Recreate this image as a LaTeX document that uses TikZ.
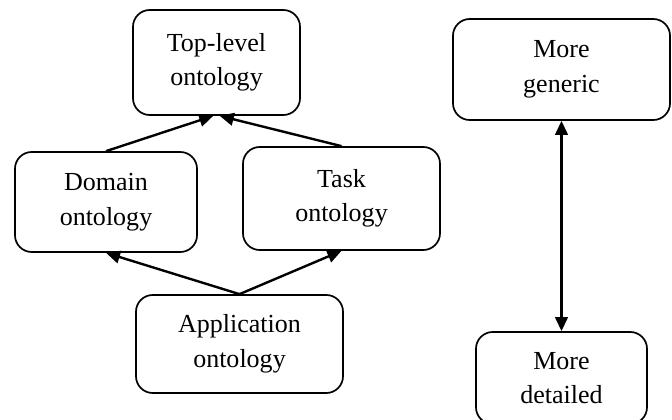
\documentclass[tikz,border=0pt]{standalone}
\usepackage{fontspec}
\setmainfont{Liberation Serif}
\usetikzlibrary{arrows.meta}

\begin{document}
\begin{tikzpicture}[x=0.025cm, y=-0.025cm,
    onto/.style={draw, line width=1.2pt, rounded corners=0.42cm, align=center,
        font=\fontsize{18.5}{24.5}\selectfont, inner sep=0pt},
    link/.style={line width=1.7pt, -{Triangle[length=10pt,width=9pt]}}]
    \useasboundingbox (0,0) rectangle (672,420);

    % Ontology levels
    \node[onto, minimum width=4.175cm, minimum height=2.625cm] (top) at (216.5,62.5) {Top-level\\ontology};
    \node[onto, minimum width=4.55cm, minimum height=2.5cm] (domain) at (106,202) {Domain\\ontology};
    \node[onto, minimum width=4.925cm, minimum height=2.575cm] (task) at (341.5,198.5) {Task\\ontology};
    \node[onto, minimum width=5.175cm, minimum height=2.45cm] (app) at (239.5,344) {Application\\ontology};

    % Scale on the right
    \node[onto, minimum width=5.425cm, minimum height=2.525cm] (generic) at (561.5,69.5) {More\\generic};
    \node[onto, minimum width=4.275cm, minimum height=2.3cm] (detailed) at (561.5,378) {More\\detailed};

    \draw[link] (domain.north) -- ([xshift=-0.08cm]top.south);
    \draw[link] (task.north) -- ([xshift=0.08cm]top.south);
    \draw[link] (app.north) -- (domain.south);
    \draw[link] (app.north) -- (task.south);
    \draw[link, {Triangle[length=10pt,width=9pt]}-{Triangle[length=10pt,width=9pt]}] (generic.south) -- (detailed.north);
\end{tikzpicture}
\end{document}
